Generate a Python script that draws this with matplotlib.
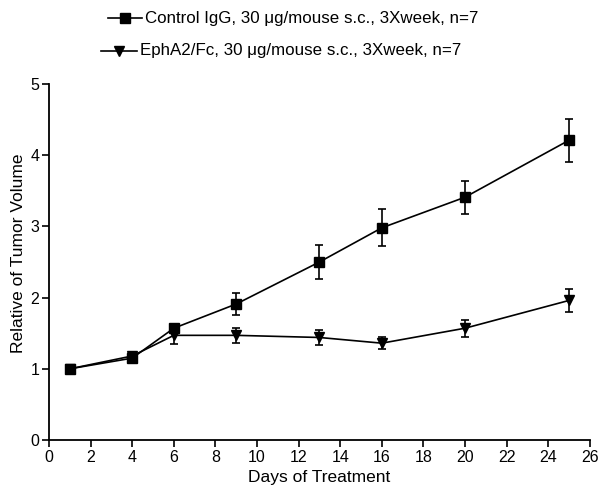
import matplotlib.pyplot as plt
from matplotlib.lines import Line2D

plt.rcParams['font.family'] = ['Liberation Sans', 'DejaVu Sans']

days = [1, 4, 6, 9, 13, 16, 20, 25]

control_mean = [1.00, 1.15, 1.57, 1.91, 2.50, 2.98, 3.41, 4.21]
control_err = [0.02, 0.04, 0.05, 0.15, 0.24, 0.26, 0.23, 0.30]

epha2_mean = [1.00, 1.18, 1.47, 1.47, 1.44, 1.36, 1.57, 1.96]
epha2_err = [0.02, 0.04, 0.12, 0.11, 0.10, 0.08, 0.12, 0.16]

control_label = 'Control IgG, 30 \u03bcg/mouse s.c., 3Xweek, n=7'
epha2_label = 'EphA2/Fc, 30 \u03bcg/mouse s.c., 3Xweek, n=7'

fig = plt.figure(figsize=(6, 4.93), dpi=100)
ax = fig.add_axes([0.0817, 0.1075, 0.9013, 0.7221])

ax.errorbar(days, epha2_mean, yerr=epha2_err, color='black', lw=1.2,
            marker='v', ms=7.5, capsize=3.2, elinewidth=1.2, capthick=1.2)
ax.errorbar(days, control_mean, yerr=control_err, color='black', lw=1.2,
            marker='s', ms=7, capsize=3.2, elinewidth=1.2, capthick=1.2)

ax.set_xlim(0, 26)
ax.set_ylim(0, 5)
ax.set_xticks(range(0, 27, 2))
ax.set_yticks(range(0, 6))
for s in ['top', 'right']:
    ax.spines[s].set_visible(False)
for s in ['left', 'bottom']:
    ax.spines[s].set_linewidth(1.3)
ax.tick_params(direction='out', length=5, width=1.2, labelsize=11.5, pad=2)

ax.set_xlabel('Days of Treatment', fontsize=12.5, labelpad=4)
ax.set_ylabel('Relative of Tumor Volume', fontsize=12.5, labelpad=3, y=0.525)

# legend drawn by hand at the top, in figure pixels
def px(x, y):
    return x / 600, 1 - y / 493

def legend_row(x0, x1, y, marker, ms, text_x, label):
    (a, b), (c, _) = px(x0, y), px(x1, y)
    fig.add_artist(Line2D([a, c], [b, b], color='black', lw=1.2,
                          transform=fig.transFigure))
    mx, my = px((x0 + x1) / 2, y)
    fig.add_artist(Line2D([mx], [my], color='black', marker=marker, ms=ms,
                          transform=fig.transFigure))
    tx, ty = px(text_x, y)
    fig.text(tx, ty, label, fontsize=12.2, va='center', ha='left')

legend_row(108, 142, 18, 's', 7, 145, control_label)
legend_row(101, 137, 51, 'v', 7.5, 140, epha2_label)

fig.savefig('out.png', dpi=100)
